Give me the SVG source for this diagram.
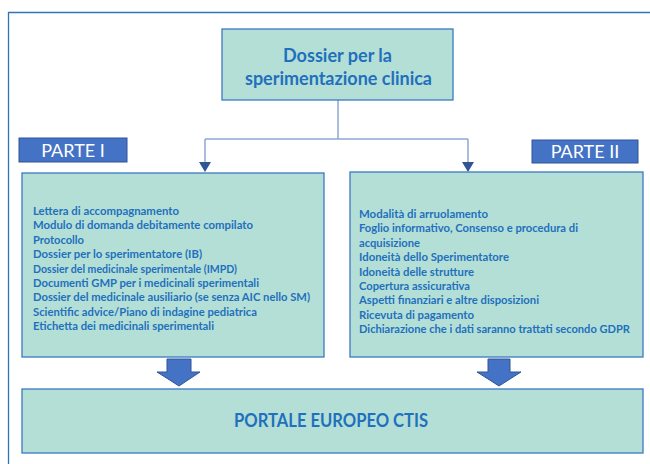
<svg xmlns="http://www.w3.org/2000/svg" width="650" height="464" viewBox="0 0 650 464">
<style>
.box{fill:#b4dfd6;stroke:#3b78c2;stroke-width:1.3}
.tag{fill:#4472c4;stroke:#2f5597;stroke-width:1}
.t{font-family:Lato,"Open Sans","Liberation Sans",sans-serif;font-weight:bold;fill:#1f70bd}
.tagt{font-family:Lato,"Open Sans","Liberation Sans",sans-serif;font-size:18px;fill:#ffffff}
.li{font-size:11px}
.conn{fill:none;stroke:#8fa8d4;stroke-width:1.5}
.head{fill:#2f5597}
.blk{fill:#4472c4;stroke:#2f5597;stroke-width:1}
</style>
<rect x="0" y="0" width="650" height="464" fill="#ffffff"/>
<path d="M8.5,470 V12.5 H660" fill="none" stroke="#2e75b6" stroke-width="1.3"/>

<g id="connectors">
<path class="conn" d="M338,100 V139 M205,139 H468 M205,139 V163 M468,139 V163"/>
<path class="head" d="M199,162 H211 L205,172 Z"/>
<path class="head" d="M462,162 H474 L468,172 Z"/>
<path class="blk" d="M167,359 H191 V372 H200 L179,386 L157,372 H167 Z"/>
<path class="blk" d="M488,359 H510 V372 H521 L499,386 L477,372 H488 Z"/>
</g>

<g id="top">
<rect class="box" x="222" y="29" width="231" height="71"/>
<text class="t" font-size="19" x="283" y="62" textLength="109" lengthAdjust="spacingAndGlyphs">Dossier per la</text>
<text class="t" font-size="19" x="245" y="84.5" textLength="187" lengthAdjust="spacingAndGlyphs">sperimentazione clinica</text>
</g>

<g id="parte1">
<rect class="tag" x="19" y="138" width="108" height="24"/>
<text class="tagt" x="73" y="157" text-anchor="middle">PARTE I</text>
</g>

<g id="parte2">
<rect class="tag" x="532" y="140" width="106" height="23"/>
<text class="tagt" x="585" y="158" text-anchor="middle">PARTE II</text>
</g>

<g id="left">
<rect class="box" x="22" y="173" width="302" height="184"/>
<g class="t li">
<text x="33" y="215" textLength="146" lengthAdjust="spacingAndGlyphs">Lettera di accompagnamento</text>
<text x="33" y="229.4" textLength="220" lengthAdjust="spacingAndGlyphs">Modulo di domanda debitamente compilato</text>
<text x="33" y="243.8" textLength="51" lengthAdjust="spacingAndGlyphs">Protocollo</text>
<text x="33" y="258.2" textLength="169" lengthAdjust="spacingAndGlyphs">Dossier per lo sperimentatore (IB)</text>
<text x="33" y="272.6" textLength="204" lengthAdjust="spacingAndGlyphs">Dossier del medicinale sperimentale (IMPD)</text>
<text x="33" y="287" textLength="226" lengthAdjust="spacingAndGlyphs">Documenti GMP per i medicinali sperimentali</text>
<text x="33" y="301.4" textLength="277" lengthAdjust="spacingAndGlyphs">Dossier del medicinale ausiliario (se senza AIC nello SM)</text>
<text x="33" y="315.8" textLength="224" lengthAdjust="spacingAndGlyphs">Scientific advice/Piano di indagine pediatrica</text>
<text x="33" y="330.2" textLength="181" lengthAdjust="spacingAndGlyphs">Etichetta dei medicinali sperimentali</text>
</g>
</g>

<g id="right">
<rect class="box" x="350" y="172" width="293" height="185"/>
<g class="t li">
<text x="359" y="218" textLength="129" lengthAdjust="spacingAndGlyphs">Modalità di arruolamento</text>
<text x="359" y="232.4" textLength="219" lengthAdjust="spacingAndGlyphs">Foglio informativo, Consenso e procedura di</text>
<text x="359" y="246.8" textLength="61" lengthAdjust="spacingAndGlyphs">acquisizione</text>
<text x="359" y="261.2" textLength="150" lengthAdjust="spacingAndGlyphs">Idoneità dello Sperimentatore</text>
<text x="359" y="275.6" textLength="115" lengthAdjust="spacingAndGlyphs">Idoneità delle strutture</text>
<text x="359" y="290" textLength="111" lengthAdjust="spacingAndGlyphs">Copertura assicurativa</text>
<text x="359" y="304.4" textLength="180" lengthAdjust="spacingAndGlyphs">Aspetti finanziari e altre disposizioni</text>
<text x="359" y="318.8" textLength="115" lengthAdjust="spacingAndGlyphs">Ricevuta di pagamento</text>
<text x="359" y="333.2" textLength="271" lengthAdjust="spacingAndGlyphs">Dichiarazione che i dati saranno trattati secondo GDPR</text>
</g>
</g>

<g id="portale">
<rect class="box" x="22" y="389" width="621" height="64"/>
<text class="t" font-size="18" text-anchor="middle" x="331" y="427" textLength="194" lengthAdjust="spacingAndGlyphs">PORTALE EUROPEO CTIS</text>
</g>
</svg>
